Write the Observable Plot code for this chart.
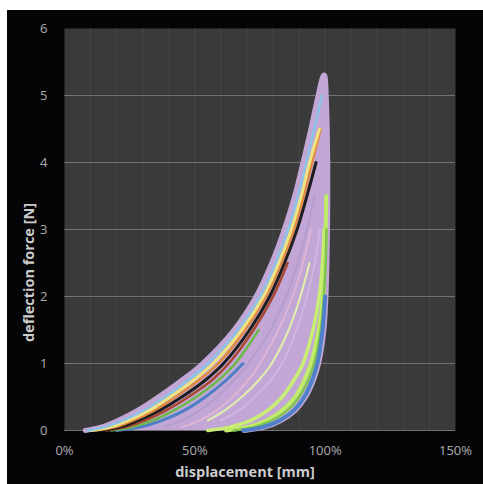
<!DOCTYPE html>
<html><head><meta charset="utf-8">
<script src="https://cdn.jsdelivr.net/npm/d3@7"></script>
<script src="https://cdn.jsdelivr.net/npm/@observablehq/plot@0.6"></script>
<style>
html,body{margin:0;padding:0;background:#fff;}
#wrap{position:absolute;left:7px;top:10px;width:476px;height:474px;background:#050508;}
svg{display:block;}
</style></head><body><div id="wrap"></div>
<script>
// force levels [N] at which each curve's displacement [%] is read
const forceLevels = [0, 0.05, 0.15, 0.3, 0.5, 0.75, 1, 1.5, 2, 2.5, 3, 3.5, 4, 4.5, 5, 5.3];
// loading curves (displacement % at each force level)
const loadOuter  = [8, 14, 20.5, 28, 36, 45, 53, 65, 73.5, 79.5, 84.3, 88.3, 91.5, 94.5, 97.3, 99.3];
const loadCyan   = [9, 15.5, 22.5, 30.5, 38.5, 47.5, 55, 66.5, 75, 81, 85.8, 89.6, 92.8, 95.8, 98.8, null];
const loadYellow = [10.5, 17.5, 24.5, 32.5, 40.5, 49.5, 57, 68, 76.3, 82.2, 87, 90.8, 94, 97.8, null, null];
const loadOrange = [12, 19.5, 26.5, 34.5, 42.5, 51.5, 59, 69.3, 77.3, 83.2, 88, 91.8, 95, 98.3, null, null];
const loadDark   = [14, 21.5, 28.5, 36.5, 45, 54, 61, 71, 78.7, 84.4, 89.2, 93, 96.5, null, null, null];
const loadRed    = [16, 23.5, 31, 39, 47.5, 56.5, 63, 72.5, 80, 85.6, null, null, null, null, null, null];
const loadGreen  = [18, 26, 34, 42, 50.5, 59, 65.5, 74.5, null, null, null, null, null, null, null, null];
const loadBlue   = [20, 29, 37.5, 46, 54, 62, 68.5, null, null, null, null, null, null, null, null, null];
// unloading curves
const unloadOuter = [69, 76.5, 83, 88.5, 92.5, 95.5, 97.5, 99.5, 100.3, 100.7, 100.9, 101, 101, 100.8, 100.4, 99.8];
const unloadBlue  = [68.5, 76, 82.5, 88, 92, 95, 97, 99, 100, null, null, null, null, null, null, null];
const unloadGreen = [65, 72.5, 79.5, 85.5, 90, 93.5, 95.8, 98.3, 99.5, 100.2, 100.5, null, null, null, null, null];
const unloadLime  = [62, 70, 77.5, 83.5, 88.5, 92, 94.5, 97.5, 99.2, 99.8, 100.2, 100.4, null, null, null, null];
const unloadLime2 = [55, 63.5, 71.5, 78, 83.5, 88, 91.5, 95.3, 97.7, 99, 99.6, null, null, null, null, null];
const streakPale  = [null, null, 55, 61.5, 68, 74.5, 79.5, 86, 90.5, 94, null, null, null, null, null, null];
const streakPink  = [null, 45, 52, 58.5, 64.5, 70.5, 75, 82, 87.5, 91.5, 94.5, null, null, null, null, null];
const interiorA   = [null, 38, 45, 52, 58.5, 65, 70.5, 79, 85, 89.5, 93, 96, null, null, null, null];
const interiorB   = [null, null, 60, 67, 73, 79, 83.5, 89, 93, 96, 98, null, null, null, null, null];
// axes
const xTicks = [0, 50, 100, 150];
const yTicks = [0, 1, 2, 3, 4, 5, 6];
const gridY = [0, 1, 2, 3, 4, 5];
const minorX = [10, 20, 30, 40, 50, 60, 70, 80, 90, 100, 110, 120, 130, 140];
const xTitle = "displacement [mm]";
const yTitle = "deflection force [N]";

const lav = "#c2a7d6";
const toRows = (name, arr) => arr.map((x, i) => ({series: name, x, F: forceLevels[i]})).filter(d => d.x != null);
const outerLoop = [...toRows("outer", loadOuter), ...toRows("outer", unloadOuter).reverse()];
const areaRows = forceLevels.map((F, i) => ({F, x1: loadOuter[i], x2: unloadOuter[i]}));

const curves = [
  ["interiorA", interiorA, "#b39dcc", 2],
  ["interiorB", interiorB, "#cdb7de", 2],
  ["streakPink", streakPink, "#e0b4d4", 2],
  ["streakPale", streakPale, "#e2efab", 2],
  ["unloadLime2", unloadLime2, "#c8ee74", 3.5],
  ["unloadLime", unloadLime, "#c0ec68", 4],
  ["unloadGreen", unloadGreen, "#7dc34e", 2.5],
  ["unloadBlue", unloadBlue, "#4f80c9", 4],
  ["loadBlue", loadBlue, "#4d7ec6", 3],
  ["loadGreen", loadGreen, "#6cb94a", 2.5],
  ["loadRed", loadRed, "#a9462f", 2.5],
  ["loadDark", loadDark, "#1e1e1e", 3],
  ["loadOrange", loadOrange, "#e0893f", 2.5],
  ["loadYellow", loadYellow, "#efe384", 3],
  ["loadCyan", loadCyan, "#8cc3e6", 2.5]
];

const lineMarks = curves.map(([name, arr, color, w]) =>
  Plot.line(toRows(name, arr), {x: "x", y: "F", stroke: color, strokeWidth: w, curve: "catmull-rom", strokeLinecap: "round"}));

const chart = Plot.plot({
  width: 476, height: 474,
  marginLeft: 57, marginRight: 28, marginTop: 18, marginBottom: 54,
  style: {background: "#050508", color: "#acacac", fontFamily: "Open Sans", fontSize: "13px"},
  x: {domain: [0, 150]},
  y: {domain: [0, 6]},
  marks: [
    Plot.frame({fill: "#3a3a3a", stroke: null}),
    Plot.ruleX(minorX, {stroke: "#454545", strokeWidth: 1}),
    Plot.ruleY(gridY, {stroke: "#717171", strokeWidth: 1}),
    Plot.areaX(areaRows, {y: "F", x1: "x1", x2: "x2", fill: lav, curve: "catmull-rom"}),
    Plot.line(outerLoop, {x: "x", y: "F", stroke: lav, strokeWidth: 5, curve: "catmull-rom", strokeLinejoin: "round"}),
    ...lineMarks,
    Plot.axisX(xTicks, {tickSize: 0, tickPadding: 15, tickFormat: d => d + "%", label: null, fill: "#acacac", style: "letter-spacing:0.8px"}),
    Plot.axisY(yTicks, {tickSize: 0, tickPadding: 17, tickFormat: d => String(d), label: null, fill: "#acacac"}),
    Plot.text([xTitle], {frameAnchor: "bottom", textAnchor: "middle", dx: -15, dy: 46, fill: "#cccccc", fontWeight: "bold", fontSize: 14.5}),
    Plot.text([yTitle], {frameAnchor: "left", textAnchor: "middle", rotate: -90, dx: -35, dy: 43, fill: "#cccccc", fontWeight: "bold", fontSize: 14.5})
  ]
});
document.getElementById("wrap").appendChild(chart);
</script></body></html>
